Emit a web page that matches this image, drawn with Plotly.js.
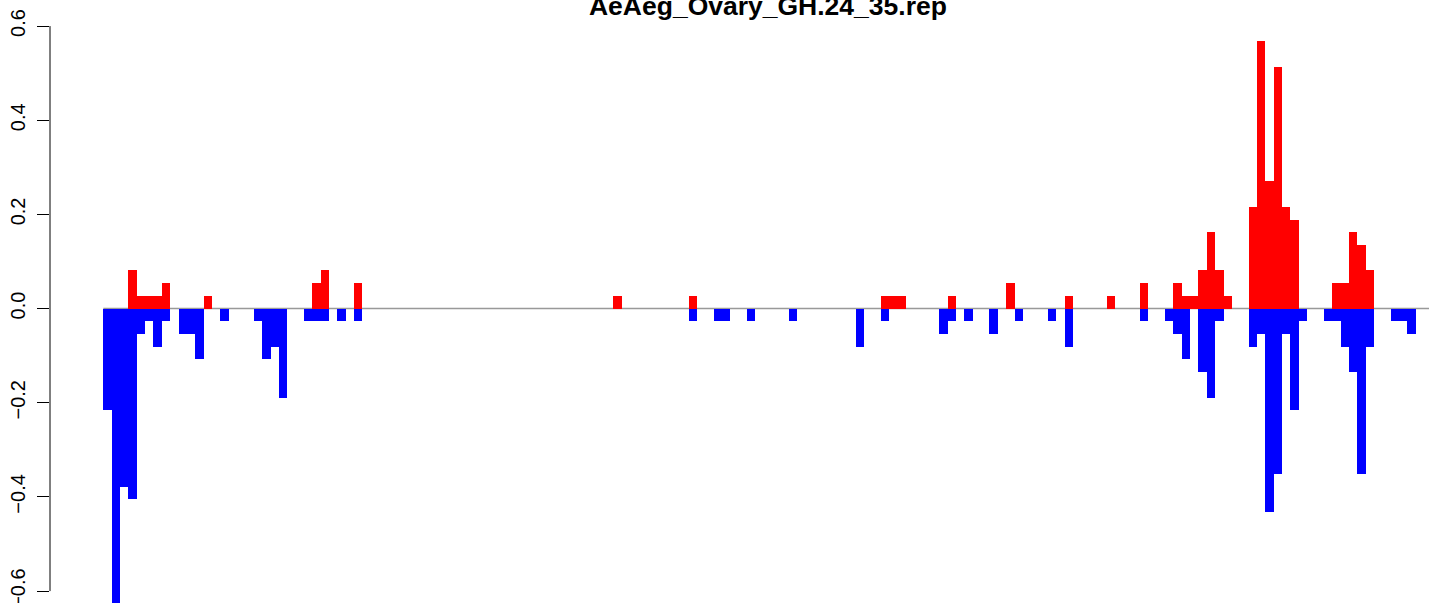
<!DOCTYPE html>
<html>
<head>
<meta charset="utf-8">
<script src="https://cdn.plot.ly/plotly-3.0.1.min.js"></script>
<style>html,body{margin:0;padding:0;background:#fff;}#chart{width:1429px;height:603px;}</style>
</head>
<body>
<div id="chart"></div>
<script>
// Title and tick labels
const chartTitle = "AeAeg_Ovary_GH.24_35.rep";
const yTickVals = [-0.6, -0.4, -0.2, 0, 0.2, 0.4, 0.6];
const yTickText = ["\u22120.6", "\u22120.4", "\u22120.2", "0.0", "0.2", "0.4", "0.6"];

// Positive (red) values per bin, 157 bins
const posValues = [
  0, 0, 0, 0.0811, 0.0270, 0.0270, 0.0270, 0.0541, 0, 0,
  0, 0, 0.0270, 0, 0, 0, 0, 0, 0, 0,
  0, 0, 0, 0, 0, 0.0541, 0.0811, 0, 0, 0,
  0.0541, 0, 0, 0, 0, 0, 0, 0, 0, 0,
  0, 0, 0, 0, 0, 0, 0, 0, 0, 0,
  0, 0, 0, 0, 0, 0, 0, 0, 0, 0,
  0, 0.0270, 0, 0, 0, 0, 0, 0, 0, 0,
  0.0270, 0, 0, 0, 0, 0, 0, 0, 0, 0,
  0, 0, 0, 0, 0, 0, 0, 0, 0, 0,
  0, 0, 0, 0.0270, 0.0270, 0.0270, 0, 0, 0, 0,
  0, 0.0270, 0, 0, 0, 0, 0, 0, 0.0541, 0,
  0, 0, 0, 0, 0, 0.0270, 0, 0, 0, 0,
  0.0270, 0, 0, 0, 0.0541, 0, 0, 0, 0.0541, 0.0270,
  0.0270, 0.0811, 0.1622, 0.0811, 0.0270, 0, 0, 0.2162, 0.5676, 0.2703,
  0.5135, 0.2162, 0.1892, 0, 0, 0, 0, 0.0541, 0.0541, 0.1622,
  0.1351, 0.0811, 0, 0, 0, 0, 0
];

// Negative (blue) values per bin, 157 bins
const negValues = [
  -0.2162, -0.649, -0.3784, -0.4054, -0.0541, -0.0270, -0.0811, -0.0270, 0, -0.0541,
  -0.0541, -0.1081, 0, 0, -0.0270, 0, 0, 0, -0.0270, -0.1081,
  -0.0811, -0.1892, 0, 0, -0.0270, -0.0270, -0.0270, 0, -0.0270, 0,
  -0.0270, 0, 0, 0, 0, 0, 0, 0, 0, 0,
  0, 0, 0, 0, 0, 0, 0, 0, 0, 0,
  0, 0, 0, 0, 0, 0, 0, 0, 0, 0,
  0, 0, 0, 0, 0, 0, 0, 0, 0, 0,
  -0.0270, 0, 0, -0.0270, -0.0270, 0, 0, -0.0270, 0, 0,
  0, 0, -0.0270, 0, 0, 0, 0, 0, 0, 0,
  -0.0811, 0, 0, -0.0270, 0, 0, 0, 0, 0, 0,
  -0.0541, -0.0270, 0, -0.0270, 0, 0, -0.0541, 0, 0, -0.0270,
  0, 0, 0, -0.0270, 0, -0.0811, 0, 0, 0, 0,
  0, 0, 0, 0, -0.0270, 0, 0, -0.0270, -0.0541, -0.1081,
  0, -0.1351, -0.1892, -0.0270, 0, 0, 0, -0.0811, -0.0541, -0.4324,
  -0.3514, -0.0541, -0.2162, -0.0270, 0, 0, -0.0270, -0.0270, -0.0811, -0.1351,
  -0.3514, -0.0811, 0, 0, -0.0270, -0.0270, -0.0541
];

const bins = posValues.map((_, i) => i);

const traces = [
  {type: 'bar', x: bins, y: posValues, width: 1, marker: {color: '#FF0000', line: {width: 0}}, hoverinfo: 'skip', showlegend: false},
  {type: 'bar', x: bins, y: negValues, width: 1, marker: {color: '#0000FF', line: {width: 0}}, hoverinfo: 'skip', showlegend: false}
];

const layout = {
  width: 1429, height: 603,
  margin: {l: 50, r: 0, t: 0, b: 0, pad: 0},
  paper_bgcolor: '#fff', plot_bgcolor: '#fff',
  barmode: 'overlay', bargap: 0,
  showlegend: false,
  title: {
    text: chartTitle,
    font: {family: 'Liberation Sans, Arial, sans-serif', size: 26.5, weight: 'bold', color: '#000'},
    x: 0.5374, xref: 'container', xanchor: 'center',
    y: 1 - 15 / 603, yref: 'container', yanchor: 'bottom'
  },
  xaxis: {visible: false, range: [-6.876, 158.077], fixedrange: true},
  yaxis: {
    range: [-0.6253, 0.6554],
    tickvals: yTickVals, ticktext: yTickText,
    tickangle: -90,
    ticks: 'outside', ticklen: 12, tickwidth: 1, tickcolor: '#000',
    ticklabeloverflow: 'allow',
    ticklabelstandoff: 4,
    tickfont: {family: 'Liberation Sans, Arial, sans-serif', size: 20, color: '#000'},
    showgrid: false, zeroline: false, showline: false, fixedrange: true
  },
  shapes: [
    {type: 'line', xref: 'x', yref: 'y', x0: -0.5, x1: 158.1, y0: 0, y1: 0, line: {color: '#999999', width: 1.5}, layer: 'below'},
    {type: 'line', xref: 'paper', yref: 'y', x0: 0, x1: 0, y0: -0.6, y1: 0.6, line: {color: '#000', width: 1}}
  ]
};

Plotly.newPlot('chart', traces, layout, {displayModeBar: false, staticPlot: true});
</script>
</body>
</html>
